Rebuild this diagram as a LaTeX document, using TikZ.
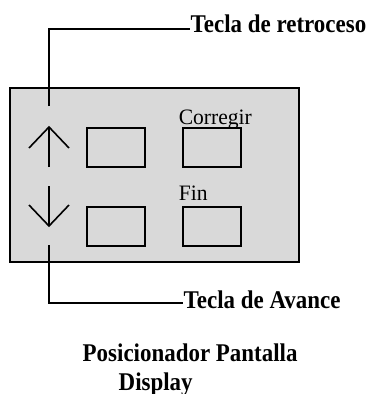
\documentclass[tikz,border=0pt]{standalone}
\usepackage{fontspec}
\setmainfont{Liberation Serif}
\usetikzlibrary{positioning}

\begin{document}
\begin{tikzpicture}[x=1pt,y=-1pt,line width=1.6pt,
    key/.style={draw,minimum width=58pt,minimum height=39pt,inner sep=0pt},
    lbl/.style={inner sep=0pt,anchor=base west,font=\fontsize{22}{24}\selectfont,xscale=0.98},
    tag/.style={inner sep=0pt,anchor=base west,font=\fontsize{25.5}{28}\bfseries\selectfont,xscale=0.9}]
    \useasboundingbox (0,0) rectangle (374,394);
    \node[draw,fill=black!15,minimum width=289pt,minimum height=174pt,inner sep=0pt] (panel) at (154.5,175) {};

    \node[key] (k_1) at (116,147.5) {};
    \node[key] (k_2) at (212,147.5) {};
    \node[key] (k_3) at (116,226.5) {};
    \node[key] (k_4) at (212,226.5) {};
    \node[lbl] (corr) at (178,124) {Corregir};
    \node[lbl] (fin) at (178,200) {Fin};

    % flechas
    \coordinate (up_a) at (49,167);
    \coordinate (up_b) at (49,127);
    \coordinate (dn_a) at (49,186);
    \coordinate (dn_b) at (49,226);
    \draw (up_a) -- (up_b);
    \draw ([shift={(-20,21)}]up_b) -- (up_b) -- ([shift={(20,21)}]up_b);
    \draw (dn_a) -- (dn_b);
    \draw ([shift={(-20,-21)}]dn_b) -- (dn_b) -- ([shift={(20,-21)}]dn_b);

    \node[tag] (retro) at (190,32) {Tecla de retroceso};
    \node[tag] (avance) at (183,308) {Tecla de Avance};
    \coordinate (l_1) at (49,106);
    \coordinate (l_2) at (49,245);
    \draw (l_1) |- ([yshift=3pt]retro.base west);
    \draw (l_2) |- ([yshift=5pt]avance.base west);

    \node[tag] (pos) at (82,361) {Posicionador Pantalla};
    \node[tag] (disp) at (118,390) {Display};
\end{tikzpicture}
\end{document}
